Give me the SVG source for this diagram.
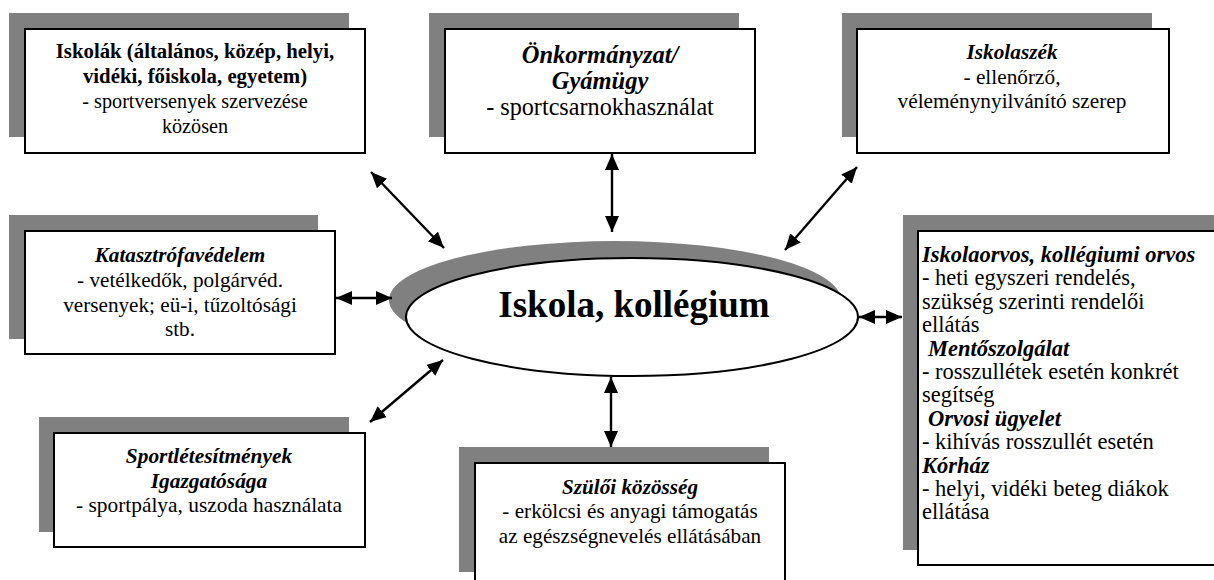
<svg xmlns="http://www.w3.org/2000/svg" width="1214" height="580" viewBox="0 0 1214 580">
<style>
.sh{fill:#808080;stroke:none}
.bx{fill:#fff;stroke:#000;stroke-width:2}
text{font-family:"Liberation Serif","Times New Roman",serif;font-size:21px;fill:#000}
.c{text-anchor:middle}
.b{font-weight:bold}
.bi{font-weight:bold;font-style:italic}
.r{font-size:22.5px}
.ar{stroke:#000;stroke-width:2.4;fill:none;marker-start:url(#ah);marker-end:url(#ah)}
</style>
<defs>
<marker id="ah" markerUnits="userSpaceOnUse" markerWidth="18" markerHeight="16" refX="16" refY="7" orient="auto-start-reverse" viewBox="0 0 18 16">
<path d="M0,0 L16,7 L0,14 z" fill="#000"/>
</marker>
</defs>
<rect width="1214" height="580" fill="#fff"/>

<g id="iskolak">
<rect class="sh" x="9" y="13" width="340" height="124"/>
<rect class="bx" x="25" y="29" width="340" height="124"/>
<text class="c b" x="195" y="58" style="font-size:20.8px">Iskolák (általános, közép, helyi,</text>
<text class="c b" x="195" y="83" style="font-size:20.8px">vidéki, főiskola, egyetem)</text>
<text class="c" x="195" y="108" style="font-size:20.2px">- sportversenyek szervezése</text>
<text class="c" x="195" y="133" style="font-size:20.2px">közösen</text>
</g>

<g id="onkormanyzat">
<rect class="sh" x="429" y="13" width="310" height="124"/>
<rect class="bx" x="445" y="29" width="310" height="124"/>
<text class="c bi" x="600" y="63" style="font-size:24.5px">Önkormányzat/</text>
<text class="c bi" x="600" y="89" style="font-size:24.5px">Gyámügy</text>
<text class="c" x="600" y="115" style="font-size:24.2px">- sportcsarnokhasználat</text>
</g>

<g id="iskolaszek">
<rect class="sh" x="842" y="13" width="310" height="124"/>
<rect class="bx" x="857" y="29" width="312" height="124"/>
<text class="c bi" x="1012" y="59" style="font-size:21.3px">Iskolaszék</text>
<text class="c" x="1012" y="84" style="font-size:21.3px">- ellenőrző,</text>
<text class="c" x="1012" y="108" style="font-size:21.3px">véleménynyilvánító szerep</text>
</g>

<g id="katasztrofavedelem">
<rect class="sh" x="9" y="215" width="309" height="124"/>
<rect class="bx" x="25" y="231" width="310" height="123"/>
<text class="c bi" x="180" y="262" style="font-size:21.2px">Katasztrófavédelem</text>
<text class="c" x="180" y="287" style="font-size:21.2px">- vetélkedők, polgárvéd.</text>
<text class="c" x="180" y="312" style="font-size:21.2px">versenyek; eü-i, tűzoltósági</text>
<text class="c" x="180" y="336" style="font-size:21.2px">stb.</text>
</g>

<g id="sportletesitmenyek">
<rect class="sh" x="39" y="417" width="310" height="115"/>
<rect class="bx" x="54" y="433" width="311" height="114"/>
<text class="c bi" x="209" y="463" style="font-size:21.4px">Sportlétesítmények</text>
<text class="c bi" x="209" y="488" style="font-size:21.4px">Igazgatósága</text>
<text class="c" x="209" y="512" style="font-size:21.4px">- sportpálya, uszoda használata</text>
</g>

<g id="szuloi">
<rect class="sh" x="459" y="447" width="310" height="125"/>
<rect class="bx" x="475" y="463" width="310" height="140"/>
<text class="c bi" x="630" y="494" style="font-size:21.2px">Szülői közösség</text>
<text class="c" x="630" y="518" style="font-size:21.2px">- erkölcsi és anyagi támogatás</text>
<text class="c" x="630" y="543" style="font-size:21.2px">az egészségnevelés ellátásában</text>
</g>

<g id="orvos">
<rect class="sh" x="903" y="215" width="320" height="335"/>
<rect class="bx" x="918" y="231" width="310" height="334"/>
<text class="bi r" x="922" y="262">Iskolaorvos, kollégiumi orvos</text>
<text class="r" x="922" y="285">- heti egyszeri rendelés,</text>
<text class="r" x="922" y="309">szükség szerinti rendelői</text>
<text class="r" x="922" y="332">ellátás</text>
<text class="bi r" x="928" y="356">Mentőszolgálat</text>
<text class="r" x="922" y="379">- rosszullétek esetén konkrét</text>
<text class="r" x="922" y="402">segítség</text>
<text class="bi r" x="928" y="426">Orvosi ügyelet</text>
<text class="r" x="922" y="449">- kihívás rosszullét esetén</text>
<text class="bi r" x="922" y="473">Kórház</text>
<text class="r" x="922" y="496">- helyi, vidéki beteg diákok</text>
<text class="r" x="922" y="519">ellátása</text>
</g>

<g id="iskola">
<ellipse class="sh" cx="615" cy="300" rx="226" ry="59"/>
<ellipse cx="632" cy="317" rx="226" ry="59" fill="#fff" stroke="#000" stroke-width="2"/>
<text class="c b" x="634" y="317" style="font-size:37px">Iskola, kollégium</text>
</g>

<g id="connectors">
<line class="ar" x1="371" y1="172" x2="444" y2="248"/>
<line class="ar" x1="612" y1="154" x2="612" y2="232"/>
<line class="ar" x1="857" y1="167" x2="785" y2="250"/>
<line class="ar" x1="336" y1="298" x2="392" y2="298"/>
<line class="ar" x1="859" y1="317" x2="902" y2="317"/>
<line class="ar" x1="370" y1="422" x2="443" y2="360"/>
<line class="ar" x1="611" y1="377" x2="611" y2="447"/>
</g>
</svg>
